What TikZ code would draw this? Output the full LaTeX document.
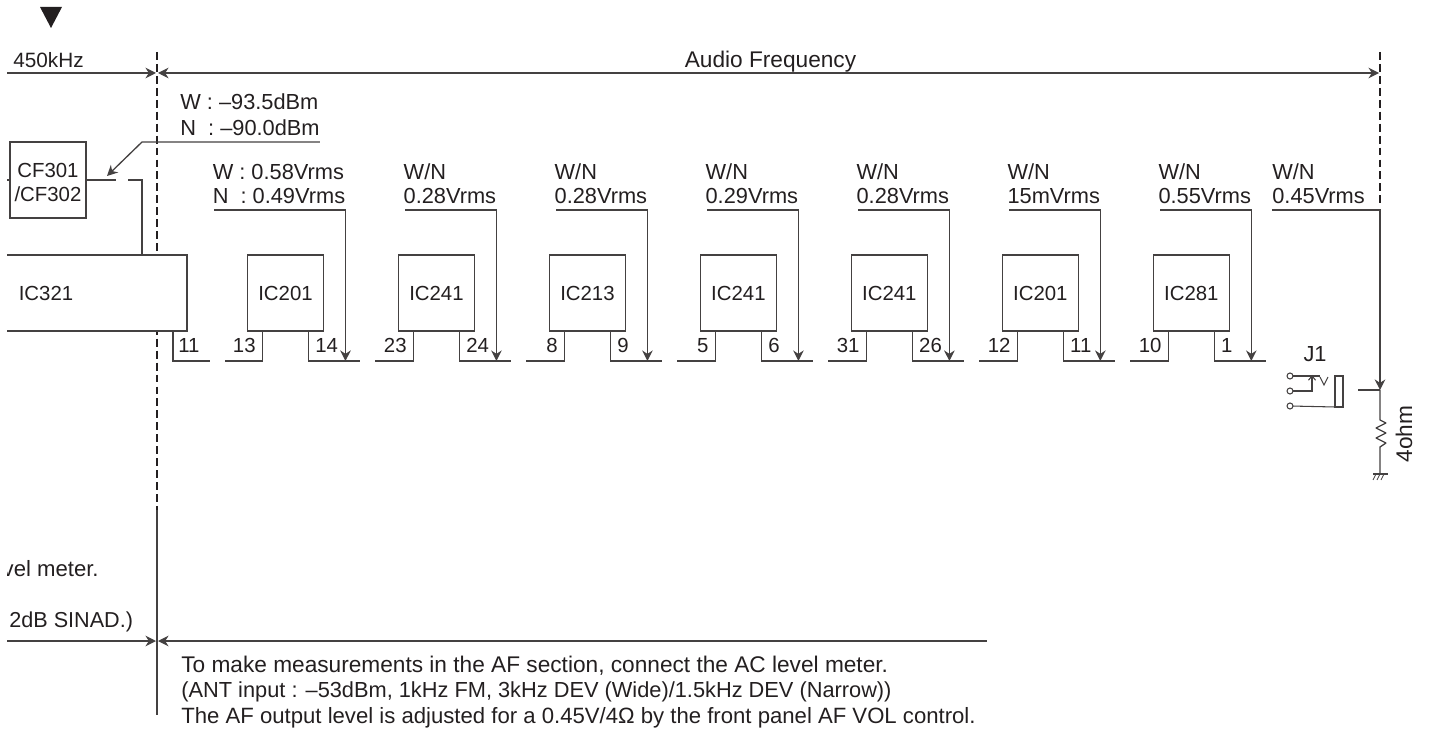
\documentclass[tikz,border=0pt]{standalone}
\usepackage{fontspec}
\setmainfont{Liberation Sans}
\usetikzlibrary{arrows.meta, positioning}
\definecolor{inkgray}{RGB}{35,31,32}

\begin{document}
\begin{tikzpicture}[x=.02cm, y=-.02cm, node distance=1.5cm, font=\fontsize{11.6}{14}\selectfont,
  color=inkgray, >={Stealth[length=6pt, width=6pt]},
  wire/.style={draw=inkgray!85, line width=.75pt},
  bound/.style={draw=inkgray, line width=1.3pt, dash pattern=on 4.5pt off 2.3pt},
  icbox/.style={draw=inkgray!85, line width=.75pt, fill=white, minimum size=1.52cm, inner sep=0pt, outer sep=0pt},
  pinlbl/.style={inner sep=0pt},
  notelbl/.style={inner sep=0pt, anchor=base west},
  vallbl/.style={inner xsep=0pt, inner ysep=.11cm, align=left, anchor=south east, font=\fontsize{12.4}{14}\selectfont}]
  \useasboundingbox (0,0) rectangle (1430,729);

  % section boundaries
  \fill (40,7) -- (62,7) -- (51,28) -- cycle;
  \coordinate (bndtop) at (157,52);
  \coordinate (bndmid) at (157,510);
  \coordinate (bndend) at (157,715);
  \coordinate (outtop) at (1380,52);
  \coordinate (outend) at (1380,205);
  \draw[bound] (bndtop) -- (bndmid);
  \draw[bound] (outtop) -- (outend);
  \draw[wire] (bndmid) -- (bndend);

  \coordinate (ifl) at (7,73);
  \coordinate (ifr) at (156,73);
  \coordinate (afl) at (158,73);
  \coordinate (afr) at (1379,73);
  \draw[wire, ->] (ifl) -- (ifr);
  \draw[wire, <->] (afl) -- (afr);
  \node[pinlbl, anchor=base west, font=\fontsize{11.8}{14}\selectfont] (iflbl) at (13,68) {450kHz};
  \node[pinlbl, anchor=base, font=\fontsize{12.9}{14}\selectfont] (aflbl) at (770.5,68) {Audio Frequency};

  \coordinate (lowl) at (7,641);
  \coordinate (lowm) at (156,641);
  \coordinate (lowa) at (158,641);
  \coordinate (lowr) at (987,641);
  \draw[wire, ->] (lowl) -- (lowm);
  \draw[wire, <-] (lowa) -- (lowr);

  % blocks
  \node[icbox, minimum width=3.6cm, draw=none] (ic321) at (97,293) {};
  \draw[wire] (ic321.north west) -- (ic321.north east) -- (ic321.south east) -- (ic321.south west);
  \node[pinlbl] (ic321lbl) at (46,293) {IC321};
  \node[icbox] (cf) at (48,180) {};
  \node[pinlbl, align=center] (cflbl) at (48,182.5) {CF301\\/CF302};

  \node[icbox] (ica) at (285.5,293) {IC201};
  \node[icbox, right=of ica] (icb) {IC241};
  \node[icbox, right=of icb] (icc) {IC213};
  \node[icbox, right=of icc] (icd) {IC241};
  \node[icbox, right=of icd] (ice) {IC241};
  \node[icbox, right=of ice] (icf) {IC201};
  \node[icbox, right=of icf] (icg) {IC281};

  % pins and measuring points
  \foreach \n/\pa/\pb/\val in {
    ica/13/14/{W : 0.58Vrms\\N\ \ : 0.49Vrms},
    icb/23/24/{W/N\\0.28Vrms},
    icc/8/9/{W/N\\0.28Vrms},
    icd/5/6/{W/N\\0.29Vrms},
    ice/31/26/{W/N\\0.28Vrms},
    icf/12/11/{W/N\\15mVrms},
    icg/10/1/{W/N\\0.55Vrms}}{
    \coordinate (\n pl) at ([xshift=.3cm, yshift=-.6cm]\n.south west);
    \coordinate (\n pr) at ([xshift=-.3cm, yshift=-.6cm]\n.south east);
    \coordinate (\n tip) at ([xshift=.44cm, yshift=-.6cm]\n.south east);
    \draw[wire] ([xshift=.3cm]\n.south west) |- ([xshift=-.76cm]\n pl);
    \draw[wire] ([xshift=-.3cm]\n.south east) |- ([xshift=1.04cm]\n pr);
    \node[pinlbl, anchor=base east] (\n la) at ([xshift=-.13cm, yshift=.16cm]\n pl) {\pa};
    \node[pinlbl, anchor=base west] (\n lb) at ([xshift=.13cm, yshift=.16cm]\n pr) {\pb};
    \node[vallbl] (\n val) at ([xshift=.44cm, yshift=.9cm]\n.north east) {\val};
    \draw[wire, ->] ([xshift=.04cm]\n val.south west) -| (\n tip);
  }

  % IF side
  \coordinate (pin11a) at (173,331);
  \coordinate (pin11b) at (210,361);
  \draw[wire] (pin11a) |- (pin11b);
  \node[pinlbl, anchor=base west] (pin11) at (178,353) {11};
  \coordinate (cfl) at (7,180);
  \coordinate (cfa) at (116,180);
  \coordinate (cfb) at (128,180);
  \coordinate (cfc) at (142,255);
  \coordinate (cftip) at (107,176);
  \coordinate (knee) at (142,142);
  \draw[wire] (cfl) -- (cf.west);
  \draw[wire] (cf.east) -- (cfa);
  \draw[wire] (cfb) -| (cfc);
  \node[vallbl, anchor=south west] (ifval) at (180,142) {W : –93.5dBm\\[.8pt]N\ \ : –90.0dBm};
  \draw[wire, ->] (ifval.south east) -- (knee) -- (cftip);

  % output side
  \node[vallbl, anchor=south west] (outval) at (1272,210) {W/N\\0.45Vrms};
  \coordinate (outtip) at (1380,390);
  \coordinate (outstub) at (1358,390);
  \coordinate (outcor) at (1380,210);
  \draw[wire, ->] (outval.south west) -- (outcor) -- (outtip);
  \draw[wire] (outstub) -- (outtip);
  \draw[wire, line join=bevel] (outtip) -- (1380,420) -- (1386,423) -- (1376,428) -- (1386,433) -- (1376,438) -- (1386,443) -- (1380,447) -- (1380,474);
  \draw[wire] (1373,474) -- (1388,474);
  \draw[wire, line width=.45pt] (1376,474) -- (1373,480) (1380,474) -- (1377,480) (1384,474) -- (1381,480);
  \node[pinlbl, rotate=90, font=\fontsize{12.9}{14}\selectfont] (load) at (1404,434) {4ohm};

  % jack
  \node[pinlbl, font=\fontsize{12.4}{14}\selectfont] (j1) at (1315,354) {J1};
  \node[draw=inkgray!85, line width=.6pt, minimum width=.16cm, minimum height=.62cm, inner sep=0pt, outer sep=0pt] (sleeve) at (1339,391.5) {};
  \node[draw=inkgray!85, line width=.6pt, circle, minimum size=.12cm, inner sep=0pt, outer sep=0pt] (ja) at (1290,376) {};
  \node[draw=inkgray!85, line width=.6pt, circle, minimum size=.12cm, inner sep=0pt, outer sep=0pt] (jb) at (1290,391) {};
  \node[draw=inkgray!85, line width=.6pt, circle, minimum size=.12cm, inner sep=0pt, outer sep=0pt] (jc) at (1290,406) {};
  \coordinate (jtip) at (1320,376);
  \coordinate (jcon) at (1312,375);
  \draw[wire, line width=.6pt] (ja) -- (jtip);
  \draw[wire, line width=.6pt, -{Straight Barb[length=2.5pt, width=4pt]}] (jb) -| (jcon);
  \draw[wire, line width=.6pt] (jc) -- (sleeve.south west);
  \draw[wire, line width=.6pt] (1320,377) -- (1324,385) -- (1328,377);

  % notes
  \begin{scope}
    \clip (7,540) rectangle (157,640);
    \node[pinlbl, anchor=base east, font=\fontsize{12.6}{14}\selectfont] (noteifa) at (99,576) {vel meter.};
    \node[notelbl, font=\fontsize{12.3}{14}\selectfont] (noteifb) at (9,627) {2dB SINAD.)};
  \end{scope}
  \node[notelbl, font=\fontsize{12.9}{14}\selectfont] (notea) at (181,672) {To make measurements in the AF section, connect the AC level meter.};
  \node[notelbl, font=\fontsize{12.4}{14}\selectfont] (noteb) at (181,697) {(ANT input : –53dBm, 1kHz FM, 3kHz DEV (Wide)/1.5kHz DEV (Narrow))};
  \node[notelbl, font=\fontsize{12.6}{14}\selectfont] (notec) at (181,723) {The AF output level is adjusted for a 0.45V/4Ω by the front panel AF VOL control.};
\end{tikzpicture}
\end{document}
